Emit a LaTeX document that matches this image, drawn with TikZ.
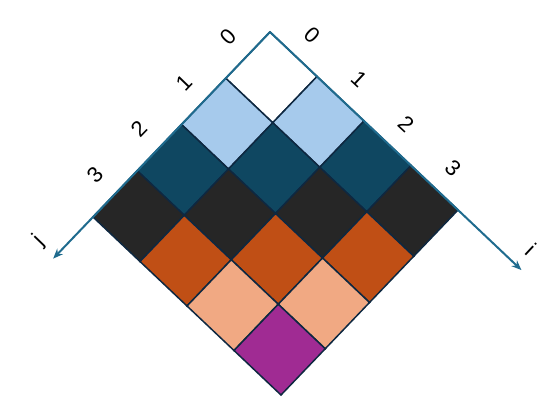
\documentclass[tikz,border=0pt]{standalone}
\usepackage{fontspec}
\setmainfont{Liberation Sans}
\usetikzlibrary{arrows.meta}
\definecolor{axis}{HTML}{1F6B8E}
\definecolor{edge}{HTML}{0E2841}
\definecolor{diag0}{HTML}{FFFFFF}
\definecolor{diag1}{HTML}{A6CAEC}
\definecolor{diag2}{HTML}{0F4761}
\definecolor{diag3}{HTML}{262626}
\definecolor{diag4}{HTML}{C04F15}
\definecolor{diag5}{HTML}{F1A983}
\definecolor{diag6}{HTML}{A02B93}

\begin{document}
\begin{tikzpicture}[x=1pt,y=1pt,every node/.style={font=\fontsize{22}{26}\selectfont,inner sep=1pt},
      cell/.style={draw=edge,line width=1.5pt},
      axisarrow/.style={-{Stealth[length=10pt,width=8pt]},line width=2pt,axis},
      grid/.style={shift={(270,-32)},x={(47pt,-44.5pt)},y={(-44.25pt,-46.25pt)}}]
  \useasboundingbox (0,0) rectangle (560,-420);
  \begin{scope}[grid]
    % cells, coloured by i+j
    \foreach \i in {0,...,3}
      \foreach \j in {0,...,3}{
        \pgfmathtruncatemacro{\k}{\i+\j}
        \filldraw[cell,fill=diag\k] (\i,\j) -- ++(1,0) -- ++(0,1) -- ++(-1,0) -- cycle;
      }
    \coordinate (origin) at (0,0);
    \coordinate (jtip) at (0,4.9);
    \coordinate (itip) at (5.35,0);
    \draw[axisarrow] (origin)--(jtip); \draw[axisarrow] (origin)--(itip);
    \foreach \n in {0,...,3}{
      \node[rotate=46] (jlab\n) at (-0.42,\n+0.5) {\n};
      \node[rotate=-43] (ilab\n) at (\n+0.5,-0.42) {\n};
    }
    \node[rotate=46] (jname) at (-0.35,4.85) {j};
    \node[rotate=-43] (iname) at (5.23,-0.34) {i};
  \end{scope}
\end{tikzpicture}
\end{document}
